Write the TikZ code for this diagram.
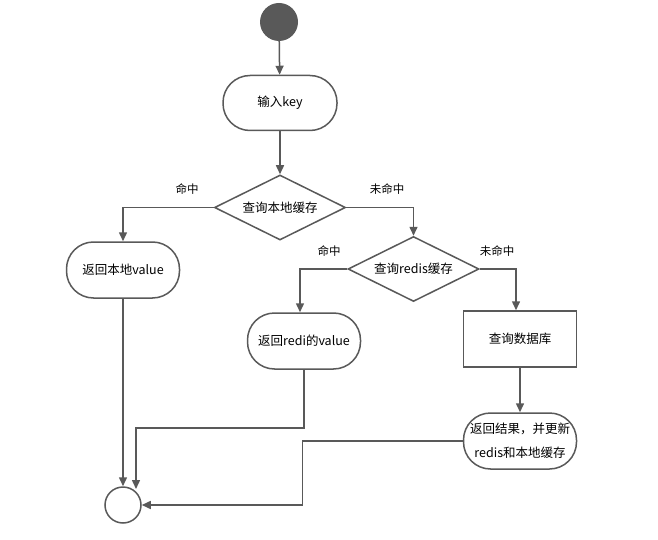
\documentclass[tikz,border=0pt]{standalone}
\usepackage{fontspec}
\setmainfont{Noto Sans CJK SC}
\usetikzlibrary{shapes.geometric,arrows.meta}
\definecolor{ln}{HTML}{595959}
\tikzset{
  every node/.style={font=\fontsize{12.5}{17}\selectfont, text=black},
  stad/.style={draw=ln, line width=1.5pt, rounded corners=27pt, minimum width=114pt, minimum height=55pt, fill=white},
  dia/.style={draw=ln, line width=1.5pt, diamond, aspect=2, minimum width=131pt, minimum height=65pt, inner sep=0pt, fill=white},
  boxr/.style={draw=ln, line width=1.5pt, minimum width=113pt, minimum height=56pt, fill=white},
  conn/.style={draw=ln, line width=1.5pt, -{Triangle[length=9pt,width=8pt]}},
  lbl/.style={font=\fontsize{11.5}{13}\selectfont}
}
\begin{document}
\begin{tikzpicture}[x=1pt,y=-1pt]
\useasboundingbox (0,0) rectangle (658,540);
\node[circle, fill=ln, minimum size=38pt, inner sep=0pt] (start) at (279,22) {};
\node[stad] (input) at (280,103) {输入key};
\node[dia] (d1) at (280,207.5) {查询本地缓存};
\node[stad, minimum width=113pt, minimum height=56pt] (local) at (123,270) {返回本地value};
\node[dia] (d2) at (413.5,269) {查询redis缓存};
\node[stad, minimum width=113pt, minimum height=56pt] (rv) at (304,341) {返回redi的value};
\node[boxr] (db) at (520,339) {查询数据库};
\node[stad, minimum width=113pt, minimum height=56pt, align=center, inner sep=0pt, font=\fontsize{12.5}{24}\selectfont] (upd) at (520,441) {返回结果，并更新\\redis和本地缓存};
\node[circle, draw=ln, line width=1.5pt, minimum size=36pt, inner sep=0pt, fill=white] (end) at (123,505) {};
\coordinate (c1) at (123,207.5);
\coordinate (c2) at (413.5,207.5);
\coordinate (c3) at (300,269);
\coordinate (c4) at (516,269);
\node[lbl] (l1) at (187,189) {命中};
\node[lbl] (l2) at (387,189) {未命中};
\node[lbl] (l3) at (329,251) {命中};
\node[lbl] (l4) at (497,251) {未命中};
\draw[conn] (start) -- (input);
\draw[conn] (input) -- (d1);
\draw[conn] (d1.west) -| (local.north);
\draw[conn] (d1.east) -| (d2.north);
\draw[conn] (d2.west) -- (c3) -- (c3 |- rv.north);
\draw[conn] (d2.east) -- (c4) -- (c4 |- db.north);
\draw[conn] (db.south) -- (db.south |- upd.north);
\draw[conn] (local.south) -- (end.north);
\coordinate (c5) at (304,428);
\coordinate (c6) at (136,428);
\draw[conn] (rv.south) -- (c5) -- (c6) -- (136,489);
\coordinate (c7) at (302.5,441);
\coordinate (c8) at (302.5,505);
\draw[conn] (upd.west) -- (c7) -- (c8) -- (end.east);
\end{tikzpicture}
\end{document}
